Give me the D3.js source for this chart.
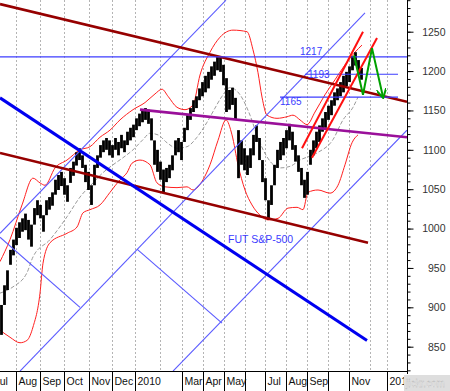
<!DOCTYPE html>
<html>
<head>
<meta charset="utf-8">
<script src="https://cdn.jsdelivr.net/npm/d3@7/dist/d3.min.js"></script>
<style>
  body { margin: 0; background: #fff; }
  svg { display: block; }
  text { font-family: "Liberation Sans", Arial, sans-serif; }
</style>
</head>
<body>
<div id="chart"></div>
<script>
// months on the time axis (bar counts, ~1 bar per trading day)
const monthNames = ['Jul', 'Aug', 'Sep', 'Oct', 'Nov', 'Dec', '2010', 'Feb', 'Mar', 'Apr', 'May', 'Jun',
  'Jul', 'Aug', 'Sep', 'Oct', 'Nov', 'Dec', '2011'];
const monthBars = [24, 24, 24, 25, 23, 23, 25, 22, 21, 21, 21, 20, 21, 21, 21, 21, 21, 17, 21];
const monthSeparator = [false, true, true, true, true, true, true, false, true, true, true, true,
  true, true, true, true, true, false, true];
const monthLabelShown = [true, true, true, true, true, true, true, false, true, true, true, false,
  true, true, true, false, true, false, true];
const firstMonthBar = -8;

// price ticks
const majorTicks = [850, 900, 950, 1000, 1050, 1100, 1150, 1200, 1250];
const minorTicks = d3.range(820, 1291, 10);

// FUT S&P-500 price bars, sampled every 3 bars
const barStep = 3;
const highs = [903, 928, 947, 973, 986, 1001, 1008, 1013, 1019, 1011,
  1005, 1026, 1036, 1030, 1017, 1036, 1040, 1046, 1062, 1068,
  1072, 1064, 1055, 1077, 1085, 1097, 1102, 1093, 1081, 1072,
  1055, 1081, 1093, 1106, 1112, 1115, 1112, 1106, 1115, 1110,
  1119, 1112, 1123, 1128, 1132, 1140, 1146, 1151, 1153, 1151,
  1140, 1112, 1100, 1085, 1075, 1077, 1081, 1093, 1112, 1115,
  1110, 1128, 1144, 1153, 1163, 1168, 1178, 1186, 1194, 1199,
  1206, 1212, 1219, 1217, 1208, 1191, 1176, 1179, 1166, 1125,
  1112, 1102, 1093, 1102, 1119, 1131, 1115, 1087, 1064, 1036,
  1055, 1081, 1100, 1110, 1115, 1125, 1133, 1123, 1106, 1093,
  1077, 1062, 1072, 1100, 1112, 1123, 1131, 1140, 1148, 1156,
  1163, 1173, 1178, 1186, 1194, 1199, 1206, 1219, 1224, 1214,
  1204];
const lows = [865, 903, 922, 954, 966, 979, 988, 996, 998, 986,
  977, 1005, 1017, 1013, 996, 1017, 1024, 1029, 1043, 1049,
  1054, 1043, 1034, 1058, 1067, 1080, 1087, 1077, 1059, 1049,
  1030, 1055, 1077, 1090, 1097, 1100, 1093, 1090, 1100, 1093,
  1102, 1097, 1106, 1112, 1116, 1125, 1130, 1135, 1138, 1133,
  1112, 1081, 1072, 1062, 1046, 1059, 1064, 1074, 1093, 1097,
  1087, 1110, 1125, 1138, 1148, 1153, 1163, 1168, 1173, 1178,
  1189, 1194, 1201, 1199, 1182, 1148, 1151, 1157, 1138, 1064,
  1081, 1074, 1068, 1077, 1093, 1110, 1087, 1059, 1036, 1011,
  1030, 1055, 1077, 1087, 1093, 1102, 1112, 1100, 1085, 1072,
  1055, 1039, 1043, 1081, 1093, 1102, 1110, 1123, 1128, 1138,
  1144, 1156, 1163, 1168, 1173, 1181, 1186, 1201, 1207, 1195,
  1189];

// Bollinger bands and middle average: [bar, price]
const upperBand = [[0, 958], [10, 986], [22, 1030], [33, 1064], [40, 1058], [45, 1055], [55, 1077],
  [67, 1087], [80, 1100], [90, 1104], [100, 1116], [110, 1125], [120, 1138], [133, 1151], [145, 1160],
  [155, 1171], [162, 1177], [168, 1168], [177, 1154], [185, 1151], [193, 1157], [200, 1195], [210, 1224],
  [220, 1243], [233, 1252], [247, 1250], [253, 1227], [258, 1198], [262, 1167], [267, 1144], [277, 1140],
  [287, 1142], [293, 1144], [300, 1138], [307, 1132], [315, 1148], [325, 1170], [335, 1189], [345, 1208],
  [355, 1224], [362, 1233]];
const lowerBand = [[0, 871], [10, 862], [20, 855], [27, 858], [33, 875], [40, 918], [43, 956], [50, 982],
  [67, 994], [77, 1002], [83, 1020], [90, 1024], [100, 1030], [110, 1046], [120, 1062], [127, 1071],
  [132, 1083], [140, 1087], [150, 1081], [157, 1058], [165, 1053], [177, 1052], [187, 1053], [193, 1049],
  [203, 1062], [210, 1081], [218, 1112], [226, 1138], [232, 1119], [238, 1081], [245, 1049], [252, 1030],
  [260, 1017], [268, 1011], [278, 1013], [288, 1026], [297, 1027], [303, 1024], [308, 1046], [318, 1049],
  [330, 1045], [338, 1055], [345, 1081], [352, 1109], [358, 1119]];
const middleBand = [[0, 918], [13, 926], [27, 944], [33, 964], [50, 986], [67, 1015], [80, 1040],
  [93, 1058], [103, 1071], [113, 1081], [123, 1090], [133, 1100], [143, 1113], [150, 1121], [158, 1119],
  [167, 1109], [177, 1102], [187, 1104], [197, 1116], [207, 1135], [215, 1153], [222, 1168], [230, 1179],
  [240, 1170], [250, 1144], [258, 1115], [267, 1091], [280, 1077], [290, 1079], [300, 1087], [317, 1096],
  [333, 1113], [343, 1138], [353, 1154], [358, 1167]];

// hand-drawn lines: [bar, price] end points
const resistanceLine = [[0, 1285], [407, 1161]];
const supportLine = [[0, 1096], [368, 982]];
const downTrendLine = [[0, 1166], [367, 858]];
const purpleLine = [[140, 1151], [407, 1116]];
const channelUpper = [[0, 994], [226, 1290]];
const channelMiddle = [[20, 819], [365, 1274]];
const channelLower = [[173, 819], [407, 1125]];
const crossLineA = [[0, 989], [80, 900]];
const crossLineB = [[137, 974], [222, 880]];
const redChannelA = [[302, 1102], [363, 1250]];
const redChannelB = [[312, 1090], [377, 1242]];
const forecastPath = [[354, 1220], [363, 1170], [372, 1229], [383, 1167]];

// horizontal levels
const levelLabels = ['1217', '1193', '1165'];
const levelValues = [1218, 1196, 1167];
const levelStart = [0, 305, 280];
const levelEnd = [407, 398, 398];
const levelLabelBar = [300, 308, 280];

const titleText = 'FUT S&P-500';
const titlePosition = [228, 982];

const width = 450;
const height = 391;
const plot = { left: 0, right: 407, top: 0, bottom: 371 };

const x = d3.scaleLinear()
  .domain([0, 407])
  .range([plot.left, plot.right]);

const y = d3.scaleLinear()
  .domain([850, 1250])
  .range([346.7, 31.7]);

const svg = d3.select('#chart')
  .append('svg')
  .attr('width', width)
  .attr('height', height);

const defs = svg.append('defs');

defs.append('clipPath')
  .attr('id', 'plot-clip')
  .append('rect')
  .attr('x', plot.left)
  .attr('y', plot.top)
  .attr('width', plot.right - plot.left)
  .attr('height', plot.bottom - plot.top);

defs.append('marker')
  .attr('id', 'arrow')
  .attr('viewBox', '0 0 10 10')
  .attr('refX', 8)
  .attr('refY', 5)
  .attr('markerWidth', 5)
  .attr('markerHeight', 5)
  .attr('orient', 'auto')
  .append('path')
  .attr('d', 'M0,0 L9,5 L0,10')
  .attr('fill', 'none')
  .attr('stroke', '#00a000')
  .attr('stroke-width', 2);

// month start bars
const monthStarts = [];
monthBars.reduce((acc, n) => { monthStarts.push(acc); return acc + n; }, firstMonthBar);

// vertical dotted grid at every month start
svg.append('g')
  .selectAll('line')
  .data(monthStarts.filter(d => d > 0 && d < 407))
  .enter()
  .append('line')
  .attr('x1', d => x(d) + 0.5)
  .attr('x2', d => x(d) + 0.5)
  .attr('y1', plot.top)
  .attr('y2', plot.bottom)
  .attr('stroke', '#b4b4b4')
  .attr('stroke-dasharray', '2,2');

const g = svg.append('g').attr('clip-path', 'url(#plot-clip)');

const line = d3.line()
  .x(d => x(d[0]))
  .y(d => y(d[1]));

const smooth = d3.line()
  .curve(d3.curveMonotoneX)
  .x(d => x(d[0]))
  .y(d => y(d[1]));

// Bollinger bands
[upperBand, lowerBand].forEach((band) => {
  g.append('path')
    .datum(band)
    .attr('fill', 'none')
    .attr('stroke', '#ff2020')
    .attr('stroke-width', 1)
    .attr('d', smooth);
});

g.append('path')
  .datum(middleBand)
  .attr('fill', 'none')
  .attr('stroke', '#9a9a9a')
  .attr('stroke-width', 1)
  .attr('stroke-dasharray', '4,2')
  .attr('d', smooth);

// price bars
g.append('g')
  .selectAll('line')
  .data(highs.map((h, i) => ({ bar: i * barStep, high: h, low: lows[i] })))
  .enter()
  .append('line')
  .attr('x1', d => x(d.bar) + 1.5)
  .attr('x2', d => x(d.bar) + 1.5)
  .attr('y1', d => y(d.high))
  .attr('y2', d => y(d.low))
  .attr('stroke', '#000')
  .attr('stroke-width', 2.8);

// thin blue channel lines
[channelUpper, channelMiddle, channelLower, crossLineA, crossLineB].forEach((pts) => {
  g.append('path')
    .datum(pts)
    .attr('fill', 'none')
    .attr('stroke', '#5a5aff')
    .attr('stroke-width', 1.1)
    .attr('d', line);
});

// dark red trend lines
[resistanceLine, supportLine].forEach((pts) => {
  g.append('path')
    .datum(pts)
    .attr('fill', 'none')
    .attr('stroke', '#960000')
    .attr('stroke-width', 2.6)
    .attr('d', line);
});

g.append('path')
  .datum(downTrendLine)
  .attr('fill', 'none')
  .attr('stroke', '#0000f0')
  .attr('stroke-width', 3)
  .attr('d', line);

g.append('path')
  .datum(purpleLine)
  .attr('fill', 'none')
  .attr('stroke', '#9a109a')
  .attr('stroke-width', 2.6)
  .attr('d', line);

// horizontal levels
levelValues.forEach((v, i) => {
  g.append('line')
    .attr('x1', x(levelStart[i]))
    .attr('x2', x(levelEnd[i]))
    .attr('y1', y(v))
    .attr('y2', y(v))
    .attr('stroke', '#3c3cff')
    .attr('stroke-width', 1.2);
});

// red up channel
[redChannelA, redChannelB].forEach((pts) => {
  g.append('path')
    .datum(pts)
    .attr('fill', 'none')
    .attr('stroke', '#ff1010')
    .attr('stroke-width', 2)
    .attr('d', line);
});

// green projection
g.append('path')
  .datum(forecastPath)
  .attr('fill', 'none')
  .attr('stroke', '#00a000')
  .attr('stroke-width', 2)
  .attr('marker-end', 'url(#arrow)')
  .attr('d', line);

// level labels
const labelOffsets = [-2, 4, 8];
svg.append('g')
  .selectAll('text')
  .data(levelLabels)
  .enter()
  .append('text')
  .attr('x', (d, i) => x(levelLabelBar[i]))
  .attr('y', (d, i) => y(levelValues[i]) + labelOffsets[i])
  .attr('font-size', 10)
  .attr('fill', '#3c3cff')
  .text(d => d);

svg.append('text')
  .attr('x', x(titlePosition[0]))
  .attr('y', y(titlePosition[1]))
  .attr('font-size', 10.5)
  .attr('fill', '#3c3cff')
  .text(titleText);

// price axis on the right
svg.append('g')
  .attr('transform', `translate(${plot.right + 0.5},0)`)
  .call(d3.axisRight(y).tickValues(minorTicks).tickSize(3).tickFormat(''))
  .call(a => a.select('.domain').remove())
  .selectAll('line')
  .attr('stroke', '#000');

const yAxis = svg.append('g')
  .attr('transform', `translate(${plot.right + 0.5},0)`)
  .call(d3.axisRight(y).tickValues(majorTicks).tickSize(6).tickFormat(d3.format('d')))
  .call(a => a.select('.domain').remove());

yAxis.selectAll('line').attr('stroke', '#000');
yAxis.selectAll('text')
  .attr('x', 38)
  .attr('text-anchor', 'end')
  .attr('font-size', 10.5)
  .attr('font-family', '"Liberation Sans", Arial, sans-serif')
  .attr('fill', '#333');

svg.append('line')
  .attr('x1', plot.right + 0.5)
  .attr('x2', plot.right + 0.5)
  .attr('y1', 0)
  .attr('y2', plot.bottom + 3)
  .attr('stroke', '#000');

// time axis at the bottom
svg.append('line')
  .attr('x1', 0)
  .attr('x2', plot.right + 0.5)
  .attr('y1', plot.bottom + 0.5)
  .attr('y2', plot.bottom + 0.5)
  .attr('stroke', '#000');

const months = monthNames.map((name, i) => ({
  name, start: monthStarts[i], sep: monthSeparator[i], shown: monthLabelShown[i],
}));

svg.append('g')
  .selectAll('line')
  .data(months.filter(m => m.sep))
  .enter()
  .append('line')
  .attr('x1', d => x(d.start) + 0.5)
  .attr('x2', d => x(d.start) + 0.5)
  .attr('y1', plot.bottom)
  .attr('y2', height)
  .attr('stroke', '#000');

svg.append('g')
  .selectAll('text')
  .data(months.filter(m => m.shown))
  .enter()
  .append('text')
  .attr('x', d => x(d.start) + 2.5)
  .attr('y', 385)
  .attr('font-size', 10.5)
  .attr('fill', '#111')
  .text(d => d.name);

// watermark
svg.append('rect')
  .attr('x', 404)
  .attr('y', 375)
  .attr('width', 46)
  .attr('height', 16)
  .attr('fill', '#dedede');

svg.append('text')
  .attr('x', 406)
  .attr('y', 387)
  .attr('font-size', 10)
  .attr('fill', '#fafafa')
  .attr('stroke', '#b0b0b0')
  .attr('stroke-width', 0.3)
  .text('jickr.com');
</script>
</body>
</html>
